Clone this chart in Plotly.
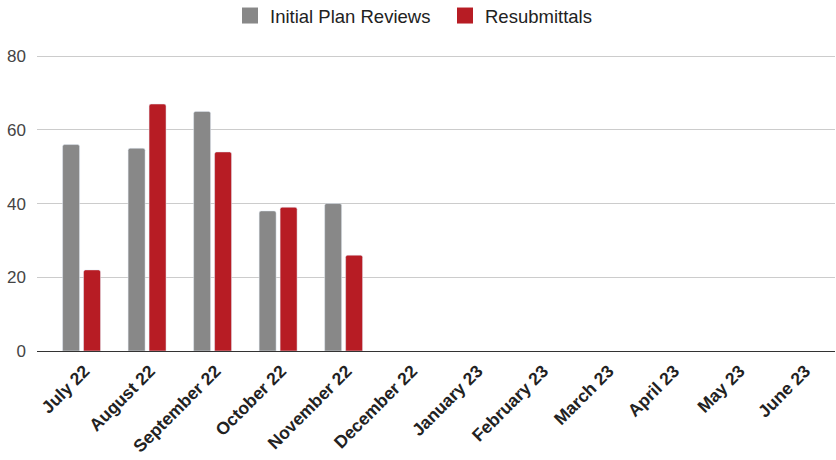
import plotly.graph_objects as go

months = ["July 22", "August 22", "September 22", "October 22", "November 22", "December 22",
          "January 23", "February 23", "March 23", "April 23", "May 23", "June 23"]
initial_reviews = [56, 55, 65, 38, 40, None, None, None, None, None, None, None]
resubmittals = [22, 67, 54, 39, 26, None, None, None, None, None, None, None]
y_ticks = [0, 20, 40, 60, 80]
series_names = ["Initial Plan Reviews", "Resubmittals"]
series_colors = ["#888888", "#b71c24"]

fig = go.Figure()
for name, vals, col in zip(series_names, [initial_reviews, resubmittals], series_colors):
    fig.add_trace(go.Bar(x=months, y=vals, name=name, showlegend=False, legendgroup=name,
                         marker=dict(color=col, cornerradius=2)))
# legend swatches (square markers like the reference)
for name, col in zip(series_names, series_colors):
    fig.add_trace(go.Scatter(x=[None], y=[None], mode="markers", name=name, legendgroup=name,
                             marker=dict(symbol="square", size=18, color=col)))

W, H = 836, 460
fig.update_layout(
    width=W, height=H,
    margin=dict(l=37, r=1, t=55, b=109, autoexpand=False),
    paper_bgcolor="white", plot_bgcolor="white",
    barmode="group", bargap=0.36, bargroupgap=0.19,
    font=dict(family="Liberation Sans, Arial, sans-serif", color="#444444"),
    legend=dict(orientation="h", x=230 / W, xanchor="left", xref="container",
                y=1 - 16 / H, yanchor="middle", yref="container",
                font=dict(size=18.5, color="#222222"),
                entrywidth=170, entrywidthmode="pixels",
                itemwidth=30, traceorder="normal"),
    showlegend=True,
)
fig.update_xaxes(type="category", range=[-0.68, 11.5], tickangle=-45, automargin=False,
                 tickfont=dict(size=17.5, color="#222222", family="Liberation Sans, Arial, sans-serif"),
                 tickprefix="<b>", ticksuffix="</b>", ticklabelshift=3, ticklabelstandoff=2,
                 showgrid=False, showline=True, linecolor="#333333", linewidth=1, ticks="")
fig.update_yaxes(range=[0, 80.3], tickvals=y_ticks, showgrid=True, gridcolor="#cccccc",
                 zeroline=True, zerolinecolor="#333333", zerolinewidth=1, automargin=False,
                 tickfont=dict(size=17, color="#444444"), ticks="", ticklabelstandoff=10)

fig.write_html("out.html", config={"displayModeBar": False},
               post_script="document.body.style.margin='0';")
